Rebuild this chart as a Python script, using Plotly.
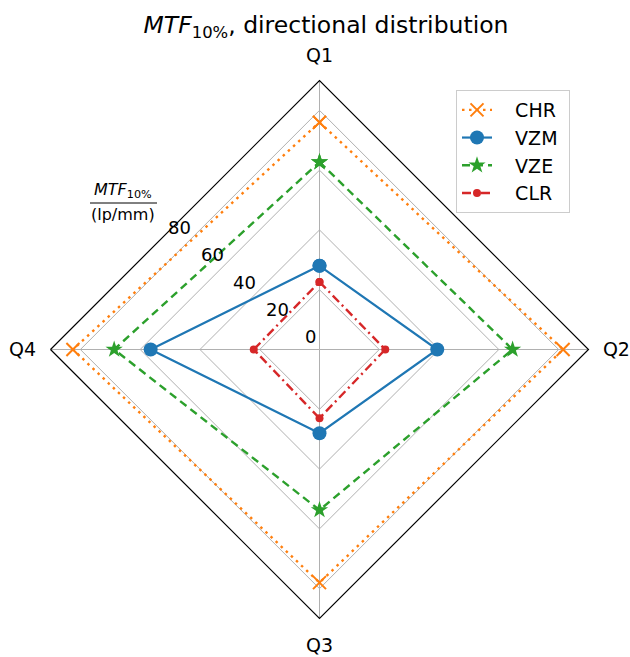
import math
import plotly.graph_objects as go

# ---- data ----
directions = ["Q1", "Q2", "Q3", "Q4"]
chr_vals = [76.0, 81.5, 78.0, 82.5]
vzm_vals = [28.0, 39.4, 28.0, 56.5]
vze_vals = [62.7, 64.6, 53.7, 68.7]
clr_vals = [22.6, 22.0, 23.0, 22.0]
radial_ticks = [0, 20, 40, 60, 80]
radial_max = 90
series_names = ["CHR", "VZM", "VZE", "CLR"]

W, H = 630, 657
cx, cy, R = 319.5, 349.5, 269.0
NB = "\u00a0\u00a0\u00a0"
NB_END = "\u00a0"


def px(x):
    return x / W


def py(y):
    return 1 - y / H


def closed(v):
    return list(v) + [v[0]]


def label(name):
    return NB + name + NB_END


theta = closed(directions)

fig = go.Figure()
fig.add_trace(go.Scatterpolar(
    r=closed(chr_vals), theta=theta, name=label(series_names[0]), mode="lines+markers",
    line=dict(color="#ff7f0e", width=2.4, dash="2.5px,4.5px"),
    marker=dict(symbol="x-thin", size=13, line=dict(color="#ff7f0e", width=2)),
))
fig.add_trace(go.Scatterpolar(
    r=closed(vzm_vals), theta=theta, name=label(series_names[1]), mode="lines+markers",
    line=dict(color="#1f77b4", width=2.2),
    marker=dict(symbol="circle", size=14, color="#1f77b4"),
))
fig.add_trace(go.Scatterpolar(
    r=closed(vze_vals), theta=theta, name=label(series_names[2]), mode="lines+markers",
    line=dict(color="#2ca02c", width=2.4, dash="8px,5px"),
    marker=dict(symbol="star", size=13, color="#2ca02c"),
))
fig.add_trace(go.Scatterpolar(
    r=closed(clr_vals), theta=theta, name=label(series_names[3]), mode="lines+markers",
    line=dict(color="#d62728", width=2.4, dash="9px,4px,2px,4px"),
    marker=dict(symbol="circle", size=8, color="#d62728"),
))

annotations = []
# radial tick labels placed along the polygon grid at ~140 degrees
ang = math.radians(140)
ux, uy = math.cos(ang), math.sin(ang)
for v in radial_ticks:
    rpx = v / radial_max * R
    t = rpx / (abs(ux) + abs(uy))
    x = cx + ux * t - 9.5
    y = cy - uy * t - 12.8
    annotations.append(dict(
        x=px(x), y=py(y), xref="paper", yref="paper", text=str(v),
        showarrow=False, xanchor="center", yanchor="middle",
        font=dict(size=18, color="black", family="DejaVu Sans"),
    ))

annotations.append(dict(
    x=px(123), y=py(191), xref="paper", yref="paper",
    text="<i>MTF</i><sub>10%</sub>", showarrow=False,
    xanchor="center", yanchor="middle",
    font=dict(size=16, color="black", family="DejaVu Sans"),
))
annotations.append(dict(
    x=px(123), y=py(214), xref="paper", yref="paper",
    text="(lp/mm)", showarrow=False, xanchor="center", yanchor="middle",
    font=dict(size=16, color="black", family="DejaVu Sans"),
))

shapes = [dict(type="line", xref="paper", yref="paper",
               x0=px(90), x1=px(157), y0=py(203), y1=py(203),
               line=dict(color="black", width=1))]

fig.update_layout(
    width=W, height=H,
    margin=dict(l=0, r=0, t=0, b=0),
    paper_bgcolor="white", plot_bgcolor="white",
    font=dict(family="DejaVu Sans", color="black", size=19),
    title=dict(text="<i>MTF</i><sub>10%</sub>, directional distribution",
               x=px(326), xanchor="center", y=py(25), yanchor="middle",
               font=dict(size=23.5, family="DejaVu Sans", color="black")),
    polar=dict(
        domain=dict(x=[px(cx - R), px(cx + R)], y=[py(cy + R), py(cy - R)]),
        gridshape="linear",
        bgcolor="white",
        radialaxis=dict(range=[0, radial_max], tickvals=radial_ticks,
                        showticklabels=False, showline=False, ticks="",
                        gridcolor="#b0b0b0", gridwidth=1.2),
        angularaxis=dict(rotation=90, direction="clockwise",
                         categoryorder="array", categoryarray=directions,
                         showline=True, linecolor="black", linewidth=1.2,
                         gridcolor="#b0b0b0", gridwidth=1.2,
                         ticks="outside", ticklen=10,
                         tickcolor="rgba(0,0,0,0)",
                         tickfont=dict(size=19, family="DejaVu Sans")),
    ),
    legend=dict(x=px(570), y=py(90), xanchor="right", yanchor="top",
                bgcolor="white", bordercolor="#cccccc", borderwidth=1,
                font=dict(size=19, family="DejaVu Sans")),
    annotations=annotations,
    shapes=shapes,
)

fig.write_html("out.html",
               config={"displayModeBar": False},
               post_script="document.body.style.margin='0px';document.body.style.overflow='hidden';")
